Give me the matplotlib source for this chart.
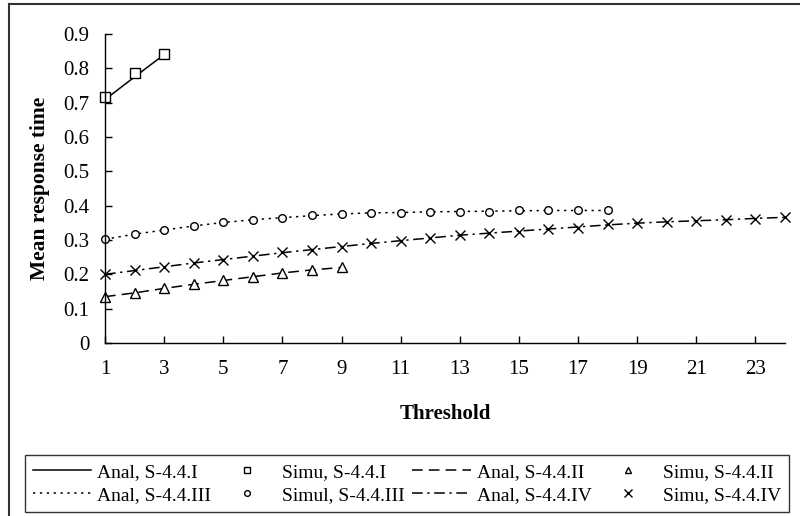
import matplotlib.pyplot as plt
from matplotlib.lines import Line2D

plt.rcParams['font.family'] = ['Liberation Serif', 'DejaVu Serif']

# Mean response time vs. threshold for four configurations
thr_1 = [1, 2, 3]
anal_1 = [0.709, 0.775, 0.840]
simu_1 = [0.717, 0.785, 0.842]

thr_2 = list(range(1, 10))
anal_2 = [0.135, 0.146, 0.159, 0.171, 0.182, 0.193, 0.204, 0.213, 0.220]
simu_2 = [0.135, 0.145, 0.159, 0.171, 0.183, 0.193, 0.205, 0.213, 0.220]

thr_3 = list(range(1, 19))
anal_3 = [0.302, 0.317, 0.329, 0.341, 0.351, 0.359, 0.365, 0.371, 0.376,
          0.379, 0.380, 0.382, 0.383, 0.384, 0.385, 0.386, 0.386, 0.386]
simu_3 = [0.302, 0.318, 0.329, 0.342, 0.352, 0.359, 0.364, 0.372, 0.377,
          0.379, 0.379, 0.382, 0.382, 0.382, 0.386, 0.386, 0.386, 0.386]

thr_4 = list(range(1, 25))
anal_4 = [0.200, 0.211, 0.222, 0.233, 0.243, 0.253, 0.263, 0.272, 0.281,
          0.290, 0.298, 0.306, 0.314, 0.320, 0.326, 0.332, 0.338, 0.344,
          0.349, 0.353, 0.356, 0.359, 0.363, 0.366]
simu_4 = [0.200, 0.212, 0.222, 0.234, 0.242, 0.252, 0.264, 0.271, 0.280,
          0.291, 0.298, 0.305, 0.315, 0.320, 0.324, 0.332, 0.336, 0.346,
          0.349, 0.352, 0.354, 0.358, 0.362, 0.366]

x_ticks = list(range(1, 24, 2))
y_ticks = [0, 0.1, 0.2, 0.3, 0.4, 0.5, 0.6, 0.7, 0.8, 0.9]

fig = plt.figure(figsize=(8, 5.16), dpi=100)
ax = fig.add_axes([105 / 800, 173 / 516, 680 / 800, 309 / 516])

lw = 1.1
a1, = ax.plot(thr_1, anal_1, color='black', lw=lw, ls='-')
a2, = ax.plot(thr_2, anal_2, color='black', lw=lw, ls=(0, (7, 4)))
a3, = ax.plot(thr_3, anal_3, color='black', lw=lw, ls=(0, (1.5, 3)))
a4, = ax.plot(thr_4, anal_4, color='black', lw=lw, ls=(0, (7, 3, 1.5, 3)))

mk = dict(ls='none', mfc='white', mec='black', mew=1.0)
s1, = ax.plot(thr_1, simu_1, marker='s', ms=6.5, **mk)
s2, = ax.plot(thr_2, simu_2, marker='^', ms=6.5, **mk)
s3, = ax.plot(thr_3, simu_3, marker='o', ms=5.5, **mk)
s4, = ax.plot(thr_4, simu_4, marker='x', ms=7, **mk)

ax.set_xlim(1, 24)
ax.set_ylim(0, 0.9)
ax.set_xticks(x_ticks)
ax.set_yticks(y_ticks)
ax.set_yticklabels(['0' if v == 0 else f'{v:.1f}' for v in y_ticks])
ax.tick_params(axis='both', direction='in', length=5, width=1, labelsize=15,
               colors='black')
ax.tick_params(axis='x', pad=12)
ax.tick_params(axis='y', pad=11)
for side in ['top', 'right']:
    ax.spines[side].set_visible(False)
for side in ['left', 'bottom']:
    ax.spines[side].set_linewidth(1.0)
for ln in ax.lines:
    ln.set_clip_on(False)

ax.set_xlabel('Threshold', fontsize=15, fontweight='bold', labelpad=18)
ax.set_ylabel('Mean response time', fontsize=15.5, fontweight='bold', labelpad=10)

# legend filled column by column -> reorder so rows read left to right
handles = [a1, a3, s1, s3, a2, a4, s2, s4]
labels = ['Anal, S-4.4.I', 'Anal, S-4.4.III', 'Simu, S-4.4.I', 'Simul, S-4.4.III',
          'Anal, S-4.4.II', 'Anal, S-4.4.IV', 'Simu, S-4.4.II', 'Simu, S-4.4.IV']
leg = fig.legend(handles, labels, ncol=4, loc='lower left',
                 bbox_to_anchor=(25 / 800, 4 / 516, 764 / 800, 66 / 516),
                 mode='expand', fontsize=14, frameon=True, fancybox=False,
                 edgecolor='black', borderaxespad=0, handlelength=3.0,
                 handletextpad=0.3, columnspacing=0.4, markerscale=0.75,
                 labelspacing=0.3, borderpad=0.4)
leg.get_frame().set_linewidth(1.0)

# chart area frame
fig.add_artist(Line2D([8.5 / 800, 8.5 / 800], [0, 1 - 3.5 / 516],
                      transform=fig.transFigure, color='#333333', lw=1.5))
fig.add_artist(Line2D([8.5 / 800, 1], [1 - 3.5 / 516, 1 - 3.5 / 516],
                      transform=fig.transFigure, color='#333333', lw=1.5))

fig.savefig('out.png', dpi=100, facecolor='white')
